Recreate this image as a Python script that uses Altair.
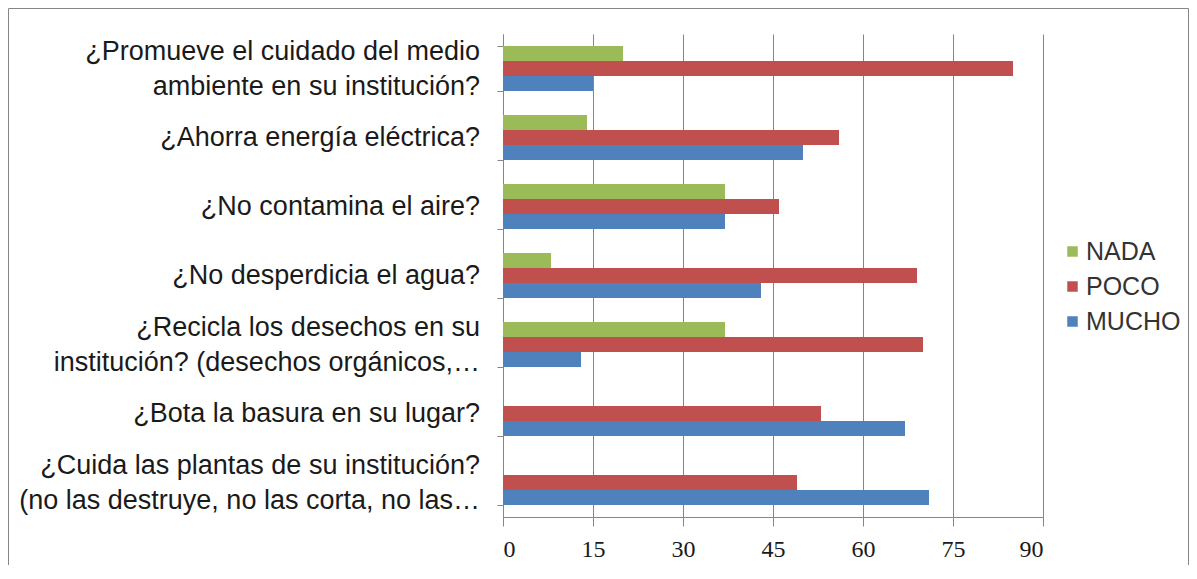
import altair as alt
import pandas as pd

questions = [
    "¿Promueve el cuidado del medio\nambiente en su institución?",
    "¿Ahorra energía eléctrica?",
    "¿No contamina el aire?",
    "¿No desperdicia el agua?",
    "¿Recicla los desechos en su\ninstitución? (desechos orgánicos,…",
    "¿Bota la basura en su lugar?",
    "¿Cuida las plantas de su institución?\n(no las destruye, no las corta, no las…",
]
series = ["NADA", "POCO", "MUCHO"]
nada = [20, 14, 37, 8, 37, 0, 0]
poco = [85, 56, 46, 69, 70, 53, 49]
mucho = [15, 50, 37, 43, 13, 67, 71]
colors = ["#9BBB59", "#C0504D", "#4F81BD"]
x_ticks = [0, 15, 30, 45, 60, 75, 90]

rows = []
for name, vals in zip(series, [nada, poco, mucho]):
    for q, v in zip(questions, vals):
        rows.append({"pregunta": q, "serie": name, "valor": v})
df = pd.DataFrame(rows)

labels_df = pd.DataFrame({"pregunta": questions,
                          "multi": ["\n" in q for q in questions]})

W, H = 540, 483
GRAY = "#868686"
y_enc = alt.Y("pregunta:N", sort=questions,
              scale=alt.Scale(paddingInner=0.35, paddingOuter=0.175),
              axis=alt.Axis(title=None, labels=False, tickBand="extent", tickSize=6,
                            tickColor=GRAY, domainColor=GRAY))

bars = alt.Chart(df).mark_bar(size=15).encode(
    x=alt.X("valor:Q",
            scale=alt.Scale(domain=[0, 90], nice=False),
            axis=alt.Axis(values=x_ticks, grid=True, gridColor=GRAY, domainColor=GRAY,
                          tickColor=GRAY, tickSize=9, labelFont="Liberation Serif",
                          labelFontSize=24, labelColor="#1a1a1a", labelPadding=11,
                          title=None)),
    y=y_enc,
    yOffset=alt.YOffset("serie:N", sort=series,
                        scale=alt.Scale(paddingInner=0, paddingOuter=0)),
    color=alt.Color("serie:N", sort=series,
                    scale=alt.Scale(domain=series, range=colors),
                    legend=alt.Legend(title=None, orient="none", legendX=557, legendY=205,
                                      symbolType="square", symbolSize=110,
                                      symbolStrokeWidth=0, labelFont="Liberation Sans",
                                      labelFontSize=25, labelColor="#333333",
                                      rowPadding=9, labelOffset=1, padding=0)),
)

text_style = dict(align="right", baseline="middle", lineBreak="\n", lineHeight=35,
                  font="Liberation Sans", fontSize=27, color="#1a1a1a")

single = alt.Chart(labels_df).transform_filter("!datum.multi").mark_text(
    **text_style
).encode(y=alt.Y("pregunta:N", sort=questions), x=alt.value(-23), text="pregunta:N")

multi = alt.Chart(labels_df).transform_filter("datum.multi").mark_text(
    dy=-17, **text_style
).encode(y=alt.Y("pregunta:N", sort=questions), x=alt.value(-23), text="pregunta:N")

border = alt.Chart(alt.Data(values=[{}])).mark_rect(
    fillOpacity=0, stroke=GRAY, strokeWidth=1
).encode(
    x=alt.value(-494.5), x2=alt.value(685.5), y=alt.value(-25.5), y2=alt.value(600)
)

chart = alt.layer(border, bars, single, multi).properties(
    width=W, height=H,
    autosize=alt.AutoSizeParams(type="none"),
    padding={"left": 495, "top": 26, "right": 146, "bottom": 48},
).configure_view(stroke=None)

chart.save("out.html", embed_options={"renderer": "svg", "actions": False})
